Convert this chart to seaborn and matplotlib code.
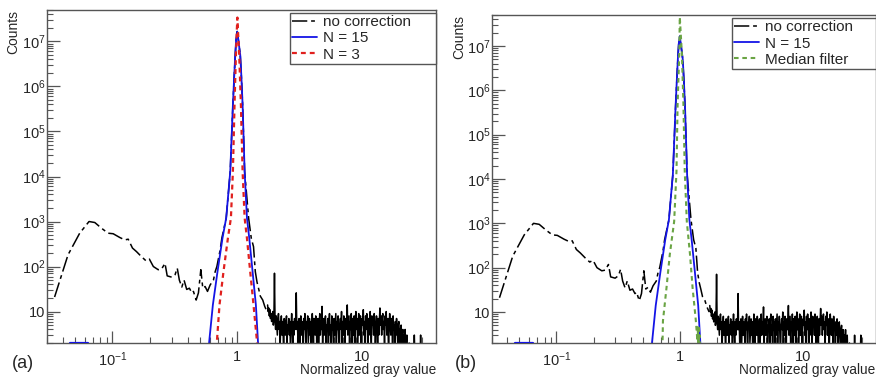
import numpy as np
import matplotlib
matplotlib.use("Agg")
import matplotlib.pyplot as plt
import seaborn as sns
from matplotlib.ticker import FixedLocator, FixedFormatter, LogLocator, NullFormatter

sns.set_theme(style="ticks")
plt.rcParams["font.family"] = ["Liberation Sans", "DejaVu Sans"]
plt.rcParams["mathtext.default"] = "regular"

# ── data ──────────────────────────────────────────────────────

# no correction: left bump + peak
nc_x = [0.0345, 0.0442, 0.0548, 0.0651, 0.0724, 0.0819, 0.0925, 0.1016, 0.115, 0.126,
        0.134, 0.145, 0.156, 0.171, 0.186, 0.198, 0.213, 0.233, 0.248, 0.264,
        0.275, 0.299, 0.318, 0.331, 0.344, 0.36, 0.375, 0.394, 0.414, 0.433,
        0.446, 0.469, 0.489, 0.511, 0.53, 0.553, 0.578, 0.607, 0.645, 0.666,
        0.687, 0.73, 0.753, 0.816, 0.879, 0.923, 0.945, 0.964, 0.98, 1.0,
        1.02, 1.057, 1.08, 1.104, 1.146, 1.233, 1.295, 1.35, 1.395, 1.44,
        1.48, 1.53, 1.6, 1.66, 1.73]
nc_y = [21, 182, 550, 1000, 950, 710, 550, 535, 440, 390,
        405, 257, 215, 166, 134, 146, 100, 85, 88, 118,
        62, 58, 66, 92, 50, 35, 50, 31, 33, 26,
        28, 18, 26, 85, 33, 36, 28, 39, 50, 77,
        100, 234, 427, 1200, 12900, 3.9e5, 1.6e6, 5.0e6, 1.1e7, 1.66e7,
        1.1e7, 5.0e6, 1.6e6, 3.9e5, 12900, 1200, 427, 276, 77, 45,
        33, 22, 18, 13, 10]

# no correction: noisy tail counts, log-spaced bins 1.75 .. 30
tail_y = [14, 10, 12, 8, 11, 7, 9, 6, 8, 10, 5, 7, 71,
          6, 4, 8, 5, 3, 7, 9, 4, 6, 2, 5, 8, 3, 6, 4, 1, 7, 5, 3, 6, 8, 2, 5, 4, 7, 3,
          6, 1, 5, 9, 4, 2, 6, 3, 7, 5, 4, 26,
          4, 6, 2, 5, 7, 1, 4, 8, 3, 6, 5, 2, 7, 4, 9, 3, 1, 6, 5, 8, 2, 4, 7, 3, 6, 1,
          5, 9, 4, 2, 7, 5, 3, 8, 6, 1, 4, 7, 2, 5, 9, 3, 6, 4, 13, 2, 5, 7,
          3, 6, 8, 2, 5, 4, 7, 1, 6, 9, 3, 5, 2, 8, 4, 6, 1, 7, 3, 5, 9, 2, 6, 4, 8, 3,
          1, 5, 7, 4, 10, 2, 6, 3, 8, 5, 1, 7, 4, 6, 14, 3, 5, 8, 2,
          6, 4, 9, 2, 7, 5, 3, 8, 1, 6, 10, 4, 7, 2, 5, 9, 3, 6, 8, 1, 4, 7, 5, 11, 3, 6,
          2, 8, 4, 9, 5, 1, 7, 3, 6, 10, 4, 2, 8, 5, 7, 3, 9, 6, 1, 4, 8, 5, 2, 7, 3, 6, 12,
          5, 8, 3, 7, 9, 4, 6, 2, 8, 5, 10, 3, 6, 7, 1, 4, 9, 5, 3, 7, 6, 2, 8, 4, 5, 1,
          6, 3, 7, 4, 2, 5, 6, 3, 1, 4, 5, 2, 3, 4, 1, 3, 2, 4, 1, 2, 3, 1,
          1, 1, 2, 1, 1, 1, 1, 1, 1, 1, 1, 3, 1, 1, 1, 1, 1, 1, 1, 1, 1, 1, 3, 1, 1]
tail_x = np.geomspace(1.75, 30, len(tail_y))

# N = 15
n15_x = [0.59, 0.596, 0.638, 0.695, 0.762, 0.816, 0.879, 0.923, 0.945, 0.964, 0.98, 1.0,
         1.02, 1.057, 1.08, 1.104, 1.146, 1.196, 1.248, 1.327, 1.41, 1.466, 1.48]
n15_y = [1.5, 2.1, 14, 77, 427, 1200, 12900, 3.9e5, 1.6e6, 5.0e6, 1.1e7, 1.66e7,
         1.1e7, 5.0e6, 1.6e6, 3.9e5, 12900, 1200, 427, 77, 14, 2.1, 1.5]
n15_low_x = [0.046, 0.064]
n15_low_y = [2.0, 2.0]

# N = 3
n3_x = [0.68, 0.687, 0.721, 0.776, 0.842, 0.89, 0.923, 0.951, 0.976, 0.99, 1.003,
        1.015, 1.037, 1.07, 1.104, 1.146, 1.196, 1.27, 1.35, 1.44, 1.45]
n3_y = [1.5, 2.1, 14, 77, 427, 1200, 12900, 3.9e5, 5.0e6, 1.6e7, 3.4e7,
        1.6e7, 5.0e6, 3.9e5, 12900, 1200, 427, 77, 14, 2.1, 1.5]

# median filter
med_x = [0.72, 0.725, 0.73, 0.78, 0.83, 0.90, 0.94, 0.96, 0.99, 1.0, 1.04, 1.07, 1.097,
         1.14, 1.21, 1.27, 1.35, 1.39, 1.40, 1.41, 1.42, 1.43, 1.45, 1.46]
med_y = [1.5, 2.2, 6.3, 35, 200, 1100, 1.5e4, 4.9e5, 6.6e6, 4.5e7, 6.6e6, 4.9e5, 1.5e4,
         1100, 200, 35, 6.3, 2.2, 4.5, 1.5, 5, 1.5, 3, 1.5]

x_ticks = [0.1, 1, 10]
x_labels = ["$10^{-1}$", "1", "10"]
y_ticks = [10, 1e2, 1e3, 1e4, 1e5, 1e6, 1e7]
y_labels = ["10", "$10^{2}$", "$10^{3}$", "$10^{4}$", "$10^{5}$", "$10^{6}$", "$10^{7}$"]

BLACK, BLUE, RED, GREEN = "#000000", "#1414e6", "#e0201e", "#6aa444"
NC_DASH = (10, 2.5, 2.5, 2.5)


def style_axes(ax):
    ax.set_xscale("log")
    ax.set_yscale("log")
    ax.set_xlim(0.03, 39)
    ax.set_ylim(2, 5e7)
    ax.xaxis.set_major_locator(FixedLocator(x_ticks))
    ax.xaxis.set_major_formatter(FixedFormatter(x_labels))
    ax.xaxis.set_minor_locator(LogLocator(base=10, subs=np.arange(2, 10)))
    ax.xaxis.set_minor_formatter(NullFormatter())
    ax.yaxis.set_major_locator(FixedLocator(y_ticks))
    ax.yaxis.set_major_formatter(FixedFormatter(y_labels))
    ax.yaxis.set_minor_locator(LogLocator(base=10, subs=np.arange(2, 10), numticks=20))
    ax.yaxis.set_minor_formatter(NullFormatter())
    ax.tick_params(which="both", direction="in", color="#555555", top=False, right=False)
    ax.tick_params(which="major", length=9, width=0.9, labelsize=10.5, pad=1)
    ax.tick_params(which="minor", length=4, width=0.8)
    ax.tick_params(axis="x", which="major", pad=5)
    for s in ax.spines.values():
        s.set_color("#555555")
        s.set_linewidth(1.0)
    ax.set_xlabel("")
    ax.set_ylabel("")


def draw_nc(ax):
    sns.lineplot(x=nc_x, y=nc_y, ax=ax, color=BLACK, linewidth=1.1,
                 estimator=None, sort=False, label="no correction")
    ax.lines[-1].set_dashes(NC_DASH)
    sns.lineplot(x=tail_x, y=tail_y, ax=ax, color=BLACK, linewidth=1.1,
                 estimator=None, sort=False)
    sns.lineplot(x=n15_x, y=n15_y, ax=ax, color=BLUE, linewidth=1.3,
                 estimator=None, sort=False, label="N = 15")
    ax.plot(n15_low_x, n15_low_y, color=BLUE, linewidth=1.6, zorder=5)


fig = plt.figure(figsize=(8.76, 3.78), dpi=100)
axes = [fig.add_axes([47 / 876, 35 / 378, 389 / 876, 333 / 378]),
        fig.add_axes([492 / 876, 35 / 378, 384 / 876, 328 / 378])]

# panel (a)
ax = axes[0]
draw_nc(ax)
sns.lineplot(x=n3_x, y=n3_y, ax=ax, color=RED, linewidth=1.6,
             estimator=None, sort=False, label="N = 3")
ax.lines[-1].set_dashes((2.2, 1.8))

# panel (b)
ax = axes[1]
draw_nc(ax)
sns.lineplot(x=med_x, y=med_y, ax=ax, color=GREEN, linewidth=1.5,
             estimator=None, sort=False, label="Median filter")
ax.lines[-1].set_dashes((2.2, 1.8))

legend_boxes = [(0.625, 0.838, 0.375, 0.162), (0.625, 0.835, 0.375, 0.165)]
for ax, box in zip(axes, legend_boxes):
    style_axes(ax)
    leg = ax.legend(loc="lower left", bbox_to_anchor=box, mode="expand",
                    borderaxespad=0, fontsize=11, frameon=True, fancybox=False,
                    handlelength=1.6, handletextpad=0.4, borderpad=0.15,
                    labelspacing=0.15)
    leg.get_frame().set_edgecolor("#555555")
    leg.get_frame().set_linewidth(1.0)
    leg.get_frame().set_alpha(1)

H = 378
for tag, tag_x, right_x, counts_x, counts_top in [("(a)", 12, 436, 13, 10),
                                                 ("(b)", 455, 875, 459, 15)]:
    fig.text(tag_x / 876, 1 - 363 / H, tag, ha="left", va="center", fontsize=13)
    fig.text(right_x / 876, 1 - 370 / H, "Normalized gray value",
             ha="right", va="center", fontsize=9.8)
    fig.text(counts_x / 876, 1 - counts_top / H, "Counts", rotation=90,
             ha="center", va="top", fontsize=10)

fig.savefig("out.png", dpi=100)
